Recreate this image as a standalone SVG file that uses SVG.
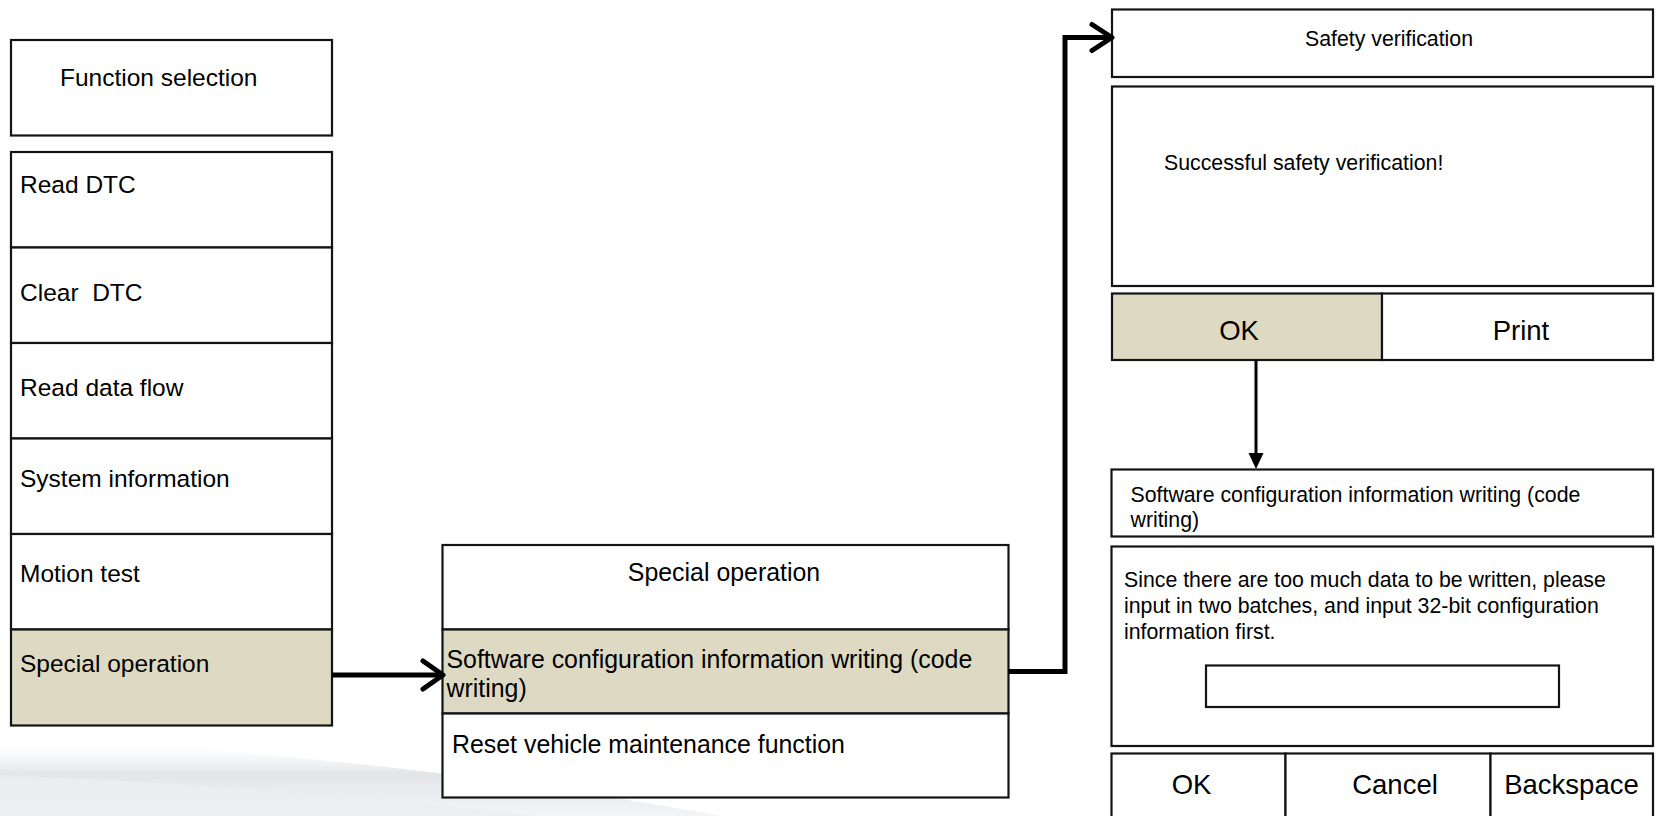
<svg xmlns="http://www.w3.org/2000/svg" width="1656" height="816" viewBox="0 0 1656 816">
<defs>
<style>
.box{fill:#fff;stroke:#141414;stroke-width:2.2}
.sel{fill:#DDD9C3;stroke:#141414;stroke-width:2.2}
.t{font-family:"Liberation Sans",Arial,sans-serif;fill:#000}
.l{font-size:24.5px}
.m{font-size:24.9px}
.s{font-size:21.3px}
.b{font-size:27.5px;text-anchor:middle}
.c{text-anchor:middle}
.conn{fill:none;stroke:#000;stroke-width:5;stroke-linejoin:miter}
.head{fill:none;stroke:#000;stroke-width:5;stroke-linecap:round;stroke-linejoin:round}
</style>
<linearGradient id="sw" x1="0" y1="0" x2="0" y2="1">
<stop offset="0" stop-color="#ffffff" stop-opacity="0"/>
<stop offset="0.45" stop-color="#dfe2e6"/>
<stop offset="1" stop-color="#f2f3f5"/>
</linearGradient>
</defs>
<rect width="1656" height="816" fill="#fff"/>
<path d="M0 738 C250 748 500 775 720 816 L0 816 Z" fill="url(#sw)" opacity="0.9"/>
<path d="M0 775 C200 783 400 800 540 816 L0 816 Z" fill="#eceef1" opacity="0.8"/>

<g id="function-selection">
<rect class="box" x="11" y="40" width="321" height="95.5"/>
<text class="t l" x="60" y="86">Function selection</text>
</g>
<g id="read-dtc">
<rect class="box" x="11" y="152" width="321" height="95.5"/>
<text class="t l" x="20" y="193">Read DTC</text>
</g>
<g id="clear-dtc">
<rect class="box" x="11" y="247.5" width="321" height="95.5"/>
<text class="t l" x="20" y="301" xml:space="preserve" style="white-space:pre">Clear  DTC</text>
</g>
<g id="read-data-flow">
<rect class="box" x="11" y="343" width="321" height="95.5"/>
<text class="t l" x="20" y="396">Read data flow</text>
</g>
<g id="system-information">
<rect class="box" x="11" y="438.5" width="321" height="95.5"/>
<text class="t l" x="20" y="487">System information</text>
</g>
<g id="motion-test">
<rect class="box" x="11" y="534" width="321" height="95.5"/>
<text class="t l" x="20" y="582">Motion test</text>
</g>
<g id="special-operation-left">
<rect class="sel" x="11" y="629.5" width="321" height="96"/>
<text class="t l" x="20" y="672">Special operation</text>
</g>

<g id="special-operation-title">
<rect class="box" x="442.5" y="545" width="566" height="84.5"/>
<text class="t m c" x="724" y="580.5">Special operation</text>
</g>
<g id="software-config-item">
<rect class="sel" x="442.5" y="629.5" width="566" height="84"/>
<text class="t m" x="446.5" y="667.5">Software configuration information writing (code</text>
<text class="t m" x="446.5" y="697">writing)</text>
</g>
<g id="reset-maintenance">
<rect class="box" x="442.5" y="713.5" width="566" height="84"/>
<text class="t m" x="452" y="752.5">Reset vehicle maintenance function</text>
</g>

<g id="safety-verification-title">
<rect class="box" x="1112" y="9.5" width="541" height="67.5"/>
<text class="t s c" x="1389" y="46">Safety verification</text>
</g>
<g id="safety-verification-message">
<rect class="box" x="1112" y="86.5" width="541" height="199.5"/>
<text class="t s" x="1164" y="170">Successful safety verification!</text>
</g>
<g id="safety-ok">
<rect class="sel" x="1112" y="293.5" width="270" height="66.5"/>
<text class="t b" x="1239" y="340">OK</text>
</g>
<g id="safety-print">
<rect class="box" x="1382" y="293.5" width="271" height="66.5"/>
<text class="t b" x="1521" y="340">Print</text>
</g>

<g id="code-writing-title">
<rect class="box" x="1111.5" y="469.5" width="541.5" height="67"/>
<text class="t s" x="1130.5" y="501.5">Software configuration information writing (code</text>
<text class="t s" x="1130.5" y="527">writing)</text>
</g>
<g id="code-writing-message">
<rect class="box" x="1111.5" y="546.5" width="541.5" height="199.5"/>
<text class="t s" x="1124" y="587">Since there are too much data to be written, please</text>
<text class="t s" x="1124" y="612.5">input in two batches, and input 32-bit configuration</text>
<text class="t s" x="1124" y="638.5">information first.</text>
<rect class="box" x="1206" y="665.5" width="353" height="41.5"/>
</g>
<g id="code-ok">
<rect class="box" x="1111.5" y="753.5" width="174" height="70"/>
<text class="t b" x="1191.5" y="793.5">OK</text>
</g>
<g id="code-cancel">
<rect class="box" x="1285.5" y="753.5" width="205" height="70"/>
<text class="t b" x="1395" y="793.5">Cancel</text>
</g>
<g id="code-backspace">
<rect class="box" x="1490.5" y="753.5" width="162.5" height="70"/>
<text class="t b" x="1571.5" y="793.5">Backspace</text>
</g>

<g id="connectors">
<line class="conn" x1="332" y1="675" x2="441" y2="675"/>
<polyline class="head" points="423,661 443,675 423,689"/>
<polyline class="conn" points="1008,671.5 1065,671.5 1065,37.5 1110,37.5"/>
<polyline class="head" points="1092,24.5 1112,37.5 1092,50.5"/>
<line x1="1256" y1="360" x2="1256" y2="455" stroke="#000" stroke-width="3"/>
<polygon points="1248.5,453 1263.5,453 1256,469" fill="#000"/>
</g>
</svg>
